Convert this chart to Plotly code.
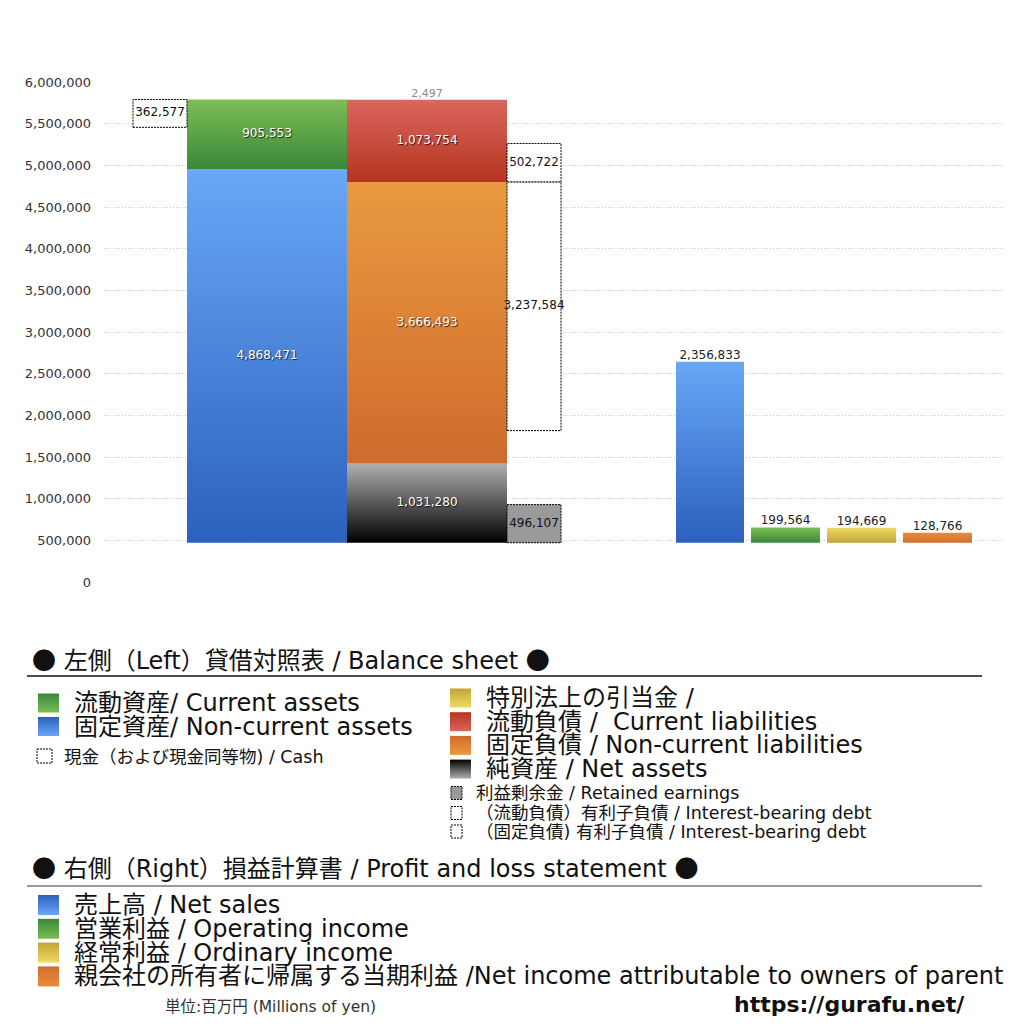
"""
Balance sheet (left) and profit & loss (right) block chart, gurafu.net style.

Writes: out.html
"""

import plotly.graph_objects as go

# =============================================================================
# DATA (millions of yen)
# =============================================================================

# Left: assets column (bottom -> top)
ASSET_NAMES = ["固定資産", "流動資産"]
ASSET_VALUES = [4868471, 905553]
CASH = 362577

# Left: liabilities + net assets column (bottom -> top)
LIAB_NAMES = ["純資産", "固定負債", "流動負債", "特別法上の引当金"]
LIAB_VALUES = [1031280, 3666493, 1073754, 2497]
RETAINED_EARNINGS = 496107
DEBT_CURRENT = 502722
DEBT_NONCURRENT = 3237584

# Right: profit and loss
PL_NAMES = ["売上高", "営業利益", "経常利益", "親会社の所有者に帰属する当期利益"]
PL_VALUES = [2356833, 199564, 194669, 128766]

# Axis
Y_TICK_STEP = 500000
Y_MAX = 6000000

# Legend texts
BS_TITLE = "左側（Left）貸借対照表 / Balance sheet"
PL_TITLE = "右側（Right）損益計算書 / Profit and loss statement"
LEGEND_ASSETS = ["流動資産/ Current assets", "固定資産/ Non-current assets"]
LEGEND_CASH = "現金（および現金同等物) / Cash"
LEGEND_LIAB = [
    "特別法上の引当金 /",
    "流動負債 /  Current liabilities",
    "固定負債 / Non-current liabilities",
    "純資産 / Net assets",
]
LEGEND_EXTRA = [
    "利益剰余金 / Retained earnings",
    "（流動負債）有利子負債 / Interest-bearing debt",
    "（固定負債) 有利子負債 / Interest-bearing debt",
]
LEGEND_PL = [
    "売上高 / Net sales",
    "営業利益 / Operating income",
    "経常利益 / Ordinary income",
    "親会社の所有者に帰属する当期利益 /Net income attributable to owners of parent",
]
UNIT_NOTE = "単位:百万円 (Millions of yen)"
SITE_URL = "https://gurafu.net/"

# =============================================================================
# STYLE / LAYOUT
# =============================================================================

OFF = 8                  # the page body margin shifts the figure by 8px
W = H = 1016
FONT = "DejaVu Sans, Noto Sans CJK JP, sans-serif"
CJK = "Noto Sans CJK JP"

# gradient pairs (bottom, top)
BLUE = ("#2c60bd", "#68a8f6")
GREEN = ("#3a883a", "#7dbd55")
RED = ("#b5341f", "#da665d")
ORANGE = ("#cf6b2d", "#e99a40")
BLACK = ("#000000", "#b0b0b0")
YELLOW = ("#c4a23a", "#eedb62")
ORANGE_PL = ("#d0702d", "#e98b3b")

BOX_DASH = "2px,1px"

# plot area in (screen) pixels
PLOT_X0, PLOT_X1 = 104, 1004
PLOT_Y0, PLOT_Y1 = 82, 582          # top, bottom
BAR_ZERO_PX = 542.7                 # where the bar baseline sits
BAR_PX_PER_UNIT = 443.2 / 5774024   # bar scale

# bar slots (x in screen pixels along the hidden x axis)
SLOT_CASH = (133, 187)
SLOT_ASSETS = (187, 347)
SLOT_LIAB = (347, 507)
SLOT_DEBT = (507, 561)
PL_SLOTS = [(676, 744), (751, 820), (827, 896), (903, 972)]


def fx(px):
    return (px - OFF) / W


def fy(py):
    return 1 - (py - OFF) / H


def rect_trace(x0, x1, y0, y1, colors=None, dash=False, fill=None, axes=("x", "y2")):
    xs = [x0, x1, x1, x0, x0]
    ys = [y0, y0, y1, y1, y0]
    kw = dict(x=xs, y=ys, mode="lines", fill="toself", hoverinfo="skip",
              showlegend=False, xaxis=axes[0], yaxis=axes[1])
    if dash:
        kw["line"] = dict(color="#000000", width=1, dash=BOX_DASH)
    else:
        kw["line"] = dict(width=0, color="rgba(0,0,0,0)")
    if fill is not None:
        kw["fillcolor"] = fill
    elif colors is not None:
        kw["fillgradient"] = dict(type="vertical",
                                  colorscale=[[0, colors[0]], [1, colors[1]]])
    else:
        kw["fillcolor"] = "rgba(0,0,0,0)"
    return go.Scatter(**kw)


def label_trace(x, y, text, color="#ffffff", size=12, shadow=True, pos="middle center"):
    return go.Scatter(
        x=[x], y=[y], mode="text", text=[text], textposition=pos,
        textfont=dict(family=FONT, size=size, color=color,
                      shadow="1px 1px 1px rgba(0,0,0,0.75)" if shadow else "none"),
        hoverinfo="skip", showlegend=False, xaxis="x", yaxis="y2",
    )


def mid(slot):
    return (slot[0] + slot[1]) / 2


def fmt(v):
    return f"{v:,}"


fig = go.Figure()

# empty trace so the tick/grid axis pair exists
fig.add_trace(go.Scatter(x=[], y=[], xaxis="x", yaxis="y", showlegend=False))

# ---- assets column -----------------------------------------------------------
asset_colors = [BLUE, GREEN]
base = 0
for val, col in zip(ASSET_VALUES, asset_colors):
    fig.add_trace(rect_trace(*SLOT_ASSETS, base, base + val, col))
    fig.add_trace(label_trace(mid(SLOT_ASSETS), base + val / 2, fmt(val)))
    base += val
total_assets = base

# cash box (dotted, next to the top of assets)
fig.add_trace(rect_trace(*SLOT_CASH, total_assets - CASH, total_assets, dash=True, fill="#ffffff"))
fig.add_trace(label_trace(mid(SLOT_CASH), total_assets - CASH / 2, fmt(CASH),
                          color="#111111", shadow=False))

# ---- liabilities + net assets column ----------------------------------------
liab_colors = [BLACK, ORANGE, RED, YELLOW]
base = 0
tops = []
for i, (val, col) in enumerate(zip(LIAB_VALUES, liab_colors)):
    fig.add_trace(rect_trace(*SLOT_LIAB, base, base + val, col))
    if i < 3:
        fig.add_trace(label_trace(mid(SLOT_LIAB), base + val / 2, fmt(val)))
    else:
        fig.add_trace(label_trace(mid(SLOT_LIAB), base + val, fmt(val), color="#8a8a8a",
                                  shadow=False, size=11, pos="top center"))
    base += val
    tops.append(base)

# interest-bearing debt boxes and retained earnings
noncur_top = tops[1]
fig.add_trace(rect_trace(*SLOT_DEBT, noncur_top, noncur_top + DEBT_CURRENT, dash=True, fill="#ffffff"))
fig.add_trace(label_trace(mid(SLOT_DEBT), noncur_top + DEBT_CURRENT / 2, fmt(DEBT_CURRENT),
                          color="#111111", shadow=False))
fig.add_trace(rect_trace(*SLOT_DEBT, noncur_top - DEBT_NONCURRENT, noncur_top, dash=True, fill="#ffffff"))
fig.add_trace(label_trace(mid(SLOT_DEBT), noncur_top - DEBT_NONCURRENT / 2, fmt(DEBT_NONCURRENT),
                          color="#111111", shadow=False))
fig.add_trace(rect_trace(*SLOT_DEBT, 0, RETAINED_EARNINGS, dash=True, fill="#9a9a9a"))
fig.add_trace(label_trace(mid(SLOT_DEBT), RETAINED_EARNINGS / 2, fmt(RETAINED_EARNINGS),
                          color="#111111", shadow=False))

# ---- profit and loss ---------------------------------------------------------
pl_colors = [BLUE, GREEN, YELLOW, ORANGE_PL]
for slot, val, col in zip(PL_SLOTS, PL_VALUES, pl_colors):
    fig.add_trace(rect_trace(*slot, 0, val, col))
    fig.add_trace(label_trace(mid(slot), val, fmt(val), color="#222222", shadow=False,
                              size=12, pos="top center"))

# ---- legend (full-page overlay axis in screen pixels) -------------------------
annotations = []


def add_text(x, y, text, size, color="#111111", bold=False):
    annotations.append(dict(
        x=fx(x), y=fy(y), xref="paper", yref="paper",
        xanchor="left", yanchor="middle", showarrow=False,
        text=f"<b>{text}</b>" if bold else text,
        font=dict(family=FONT, size=size, color=color),
    ))


def leg_box(x0, x1, y0, y1, colors=None, dash=False, fill=None):
    # y3 is reversed (screen pixels), so swap the gradient ends
    cols = None if colors is None else (colors[1], colors[0])
    fig.add_trace(rect_trace(x0, x1, y0, y1, cols, dash=dash, fill=fill, axes=("x3", "y3")))


dot = f'<span style="font-family:{CJK}">●</span>'

# headings
add_text(30, 658, f"{dot} {BS_TITLE} {dot}", 24)
add_text(30, 866.5, f"{dot} {PL_TITLE} {dot}", 24)

# left column: assets
for i, (txt, col) in enumerate(zip(LEGEND_ASSETS, [GREEN, BLUE])):
    yc = 703 + i * 23.5
    leg_box(38, 59, yc - 9.5, yc + 9.5, col)
    add_text(72, yc, txt, 24)
leg_box(37, 52, 749, 763, dash=True)
add_text(62, 756.5, LEGEND_CASH, 17.5)

# right column: liabilities
for i, (txt, col) in enumerate(zip(LEGEND_LIAB, [YELLOW, RED, ORANGE, BLACK])):
    yc = 698 + i * 23.7
    leg_box(450, 471, yc - 9.5, yc + 9.5, col)
    add_text(484, yc, txt, 24)
for i, txt in enumerate(LEGEND_EXTRA):
    yc = [793, 813, 831.5][i]
    leg_box(451, 462, yc - 6.5, yc + 6.5, dash=True, fill="#9a9a9a" if i == 0 else None)
    add_text(474, yc, txt, 17.5)

# P&L
for i, (txt, col) in enumerate(zip(LEGEND_PL, [BLUE, GREEN, YELLOW, ORANGE_PL])):
    yc = 905 + i * 23.8
    leg_box(38, 59, yc - 10, yc + 10, col)
    add_text(72, yc, txt, 24)

add_text(163, 1007, UNIT_NOTE, 15.5, color="#333333")
add_text(732, 1004, SITE_URL, 22, color="#111111", bold=True)

shapes = [
    dict(type="line", xref="paper", yref="paper", x0=fx(27), x1=fx(982),
         y0=fy(676), y1=fy(676), line=dict(color="#111111", width=1.3)),
    dict(type="line", xref="paper", yref="paper", x0=fx(27), x1=fx(982),
         y0=fy(886), y1=fy(886), line=dict(color="#777777", width=1.5)),
]

# ---- axes ------------------------------------------------------------------------
y2_lo = -(PLOT_Y1 - BAR_ZERO_PX) / BAR_PX_PER_UNIT
y2_hi = (BAR_ZERO_PX - PLOT_Y0) / BAR_PX_PER_UNIT

fig.update_layout(
    width=W, height=H,
    margin=dict(l=0, r=0, t=0, b=0),
    paper_bgcolor="#ffffff",
    plot_bgcolor="rgba(0,0,0,0)",
    showlegend=False,
    font=dict(family=FONT, color="#333333"),
    xaxis=dict(domain=[fx(PLOT_X0), fx(PLOT_X1)], range=[PLOT_X0, PLOT_X1],
               visible=False, fixedrange=True, anchor="y"),
    yaxis=dict(domain=[fy(PLOT_Y1), fy(PLOT_Y0)], range=[0, Y_MAX],
               dtick=Y_TICK_STEP, tick0=0, tickformat=",", anchor="x",
               showgrid=True, gridcolor="#c2c2c2", griddash="1px,2px", gridwidth=1,
               zeroline=False, showline=False, ticks="",
               ticklabelstandoff=12, automargin=False,
               tickfont=dict(family=FONT, size=13, color="#333333")),
    yaxis2=dict(overlaying="y", range=[y2_lo, y2_hi], visible=False,
                anchor="x", fixedrange=True),
    xaxis3=dict(domain=[0, 1], range=[OFF, OFF + W], visible=False, anchor="y3"),
    yaxis3=dict(domain=[0, 1], range=[OFF + H, OFF], visible=False, anchor="x3"),
    annotations=annotations,
    shapes=shapes,
)

fig.write_html("out.html")
